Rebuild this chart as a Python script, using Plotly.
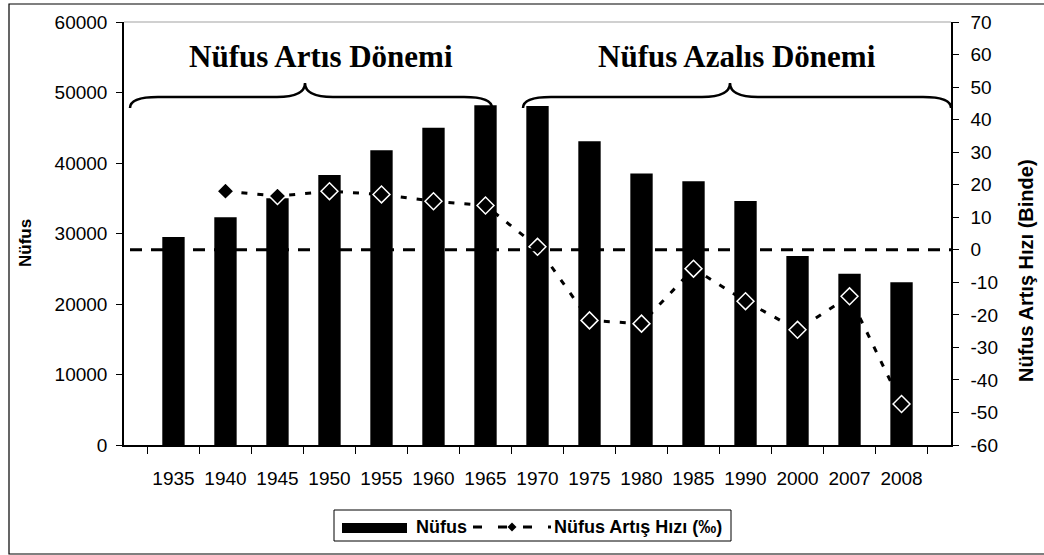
import plotly.graph_objects as go

years = ["1935", "1940", "1945", "1950", "1955", "1960", "1965", "1970",
         "1975", "1980", "1985", "1990", "2000", "2007", "2008"]
nufus = [29500, 32300, 35000, 38300, 41800, 45000, 48200, 48100,
         43100, 38500, 37400, 34600, 26800, 24300, 23100]
artis_hizi = [None, 18.0, 16.5, 18.0, 17.0, 14.9, 13.6, 0.9,
              -21.7, -22.7, -5.8, -15.8, -24.6, -14.3, -47.4]

left_ticks = list(range(0, 60001, 10000))
left_ticktext = [str(v) for v in left_ticks]
right_ticks = list(range(-60, 71, 10))
right_ticktext = [str(v) for v in right_ticks]

series_names = ["Nüfus", "Nüfus Artış Hızı (‰)"]

# plot area in pixels (for decoration placement)
PL, PR, PT, PB = 124, 951, 22, 445
W, H = 1044, 555


def px(x):
    return (x - PL) / (PR - PL)


def py(y):
    return (PB - y) / (PB - PT)


def brace(x0, x1, xm, y_end, y_flat, y_peak):
    d = 28
    pts = [
        f"M {px(x0)},{py(y_end)}",
        f"Q {px(x0)},{py(y_flat)} {px(x0 + d)},{py(y_flat)}",
        f"L {px(xm - d)},{py(y_flat)}",
        f"Q {px(xm)},{py(y_flat)} {px(xm)},{py(y_peak)}",
        f"Q {px(xm)},{py(y_flat)} {px(xm + d)},{py(y_flat)}",
        f"L {px(x1 - d)},{py(y_flat)}",
        f"Q {px(x1)},{py(y_flat)} {px(x1)},{py(y_end)}",
    ]
    return " ".join(pts)


def diamond(cx, cy, r):
    return (f"M {px(cx)},{py(cy - r)} L {px(cx + r)},{py(cy)} "
            f"L {px(cx)},{py(cy + r)} L {px(cx - r)},{py(cy)} Z")


fig = go.Figure()
fig.add_trace(go.Bar(
    x=years, y=nufus, name=series_names[0],
    marker=dict(color="black", line=dict(width=0)),
    yaxis="y",
))
fig.add_trace(go.Scatter(
    x=years, y=artis_hizi, name=series_names[1],
    mode="lines+markers", yaxis="y2",
    line=dict(color="black", width=3, dash="6px,10px"),
    marker=dict(symbol="diamond", size=13, color="black",
                line=dict(color="white", width=1.5)),
    connectgaps=False,
))

tick_font = dict(family="Liberation Sans, Arial", size=19, color="black")

fig.update_layout(
    width=W, height=H,
    margin=dict(l=PL, r=W - PR, t=PT, b=H - PB),
    paper_bgcolor="white", plot_bgcolor="white",
    bargap=0.57,
    showlegend=False,
    xaxis=dict(
        type="category", tickson="boundaries", ticks="outside", ticklen=7,
        tickcolor="black", showline=True, linecolor="black", linewidth=1.5,
        showgrid=False, tickfont=tick_font, ticklabelstandoff=15,
    ),
    yaxis=dict(
        range=[0, 60000], tickvals=left_ticks, ticktext=left_ticktext,
        ticks="outside", ticklen=6,
        tickcolor="black", showline=True, linecolor="black", linewidth=1.5,
        showgrid=False, zeroline=False, tickfont=tick_font,
        ticklabelstandoff=5,
    ),
    yaxis2=dict(
        range=[-60, 70], tickvals=right_ticks, ticktext=right_ticktext,
        overlaying="y", side="right",
        ticks="outside", ticklen=6, tickcolor="black", showline=True,
        linecolor="black", linewidth=1.5, showgrid=False, zeroline=False,
        tickfont=tick_font, ticklabelstandoff=8,
    ),
)

shapes = [
    # zero line on secondary axis
    dict(type="line", xref="paper", yref="y2", x0=px(130), x1=1, y0=0, y1=0,
         line=dict(color="black", width=3, dash="12px,9px"), layer="above"),
    # plot area top border
    dict(type="line", xref="paper", yref="paper", x0=0, x1=1, y0=1, y1=1,
         line=dict(color="#c0c0c0", width=1.5)),
    # outer chart border
    dict(type="rect", xref="paper", yref="paper",
         x0=px(9), x1=px(1060), y0=py(554), y1=py(4),
         line=dict(color="black", width=1.2)),
    # braces
    dict(type="path", xref="paper", yref="paper",
         path=brace(130, 492, 305, 108, 97, 83),
         line=dict(color="black", width=2.5)),
    dict(type="path", xref="paper", yref="paper",
         path=brace(523, 951, 730, 108, 97, 83),
         line=dict(color="black", width=2.5)),
    # legend box
    dict(type="rect", xref="paper", yref="paper",
         x0=px(334), x1=px(731), y0=py(541), y1=py(510),
         line=dict(color="black", width=1), fillcolor="white"),
    # legend: bar symbol
    dict(type="rect", xref="paper", yref="paper",
         x0=px(342), x1=px(407), y0=py(533), y1=py(523),
         line=dict(width=0), fillcolor="black"),
    # legend: line sample
    dict(type="line", xref="paper", yref="paper",
         x0=px(473), x1=px(551), y0=py(527), y1=py(527),
         line=dict(color="black", width=3, dash="9px,16px")),
    dict(type="path", xref="paper", yref="paper", path=diamond(512, 527, 4.5),
         line=dict(width=0), fillcolor="black"),
]
fig.update_layout(shapes=shapes)

serif = dict(family="Liberation Serif, Times New Roman", size=31,
             color="black", weight="bold")
sans_bold = dict(family="Liberation Sans, Arial", size=18, color="black",
                 weight="bold")
annotations = [
    dict(text="Nüfus Artıs Dönemi", x=px(321), y=py(56), xref="paper",
         yref="paper", showarrow=False, font=serif, xanchor="center",
         yanchor="middle"),
    dict(text="Nüfus Azalıs Dönemi", x=px(737), y=py(56), xref="paper",
         yref="paper", showarrow=False, font=serif, xanchor="center",
         yanchor="middle"),
    dict(text="Nüfus", x=px(25), y=py(243), xref="paper", yref="paper",
         showarrow=False, textangle=-90, xanchor="center", yanchor="middle",
         font=dict(family="Liberation Sans, Arial", size=17, color="black",
                   weight="bold")),
    dict(text="Nüfus Artış Hızı (Binde)", x=px(1026), y=py(271),
         xref="paper", yref="paper", showarrow=False, textangle=-90,
         xanchor="center", yanchor="middle",
         font=dict(family="Liberation Sans, Arial", size=20, color="black",
                   weight="bold")),
    # legend texts
    dict(text=series_names[0], x=px(414), y=py(527), xref="paper",
         yref="paper", showarrow=False, xanchor="left", yanchor="middle",
         font=sans_bold),
    dict(text=series_names[1], x=px(552), y=py(527), xref="paper",
         yref="paper", showarrow=False, xanchor="left", yanchor="middle",
         font=sans_bold),
]
fig.update_layout(annotations=annotations)

fig.write_html("out.html",
               config={"displayModeBar": False},
               post_script="document.body.style.margin='0';")
